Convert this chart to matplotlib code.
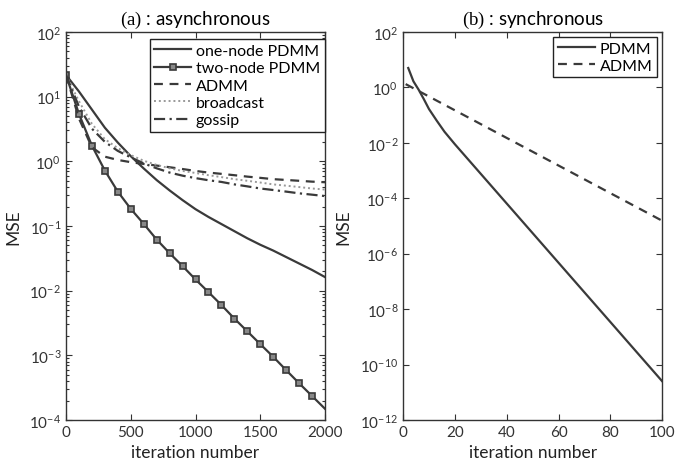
import matplotlib
matplotlib.use("Agg")
import matplotlib.pyplot as plt
import numpy as np
from matplotlib.ticker import FixedLocator, FuncFormatter, NullLocator, LogLocator

plt.rcParams['font.family'] = ['Lato', 'DejaVu Sans']
plt.rcParams['mathtext.fontset'] = 'custom'
plt.rcParams['mathtext.rm'] = 'Liberation Serif'
plt.rcParams['mathtext.sf'] = 'Lato'

# ---- (a) asynchronous ----
iters_a = [0, 100, 200, 300, 400, 500, 600, 700, 800, 900, 1000,
           1100, 1200, 1300, 1400, 1500, 1600, 1700, 1800, 1900, 2000]
one_node_log = [1.335, 1.08, 0.80, 0.52, 0.29, 0.08, -0.11, -0.29, -0.45, -0.60, -0.74,
                -0.86, -0.97, -1.08, -1.19, -1.29, -1.38, -1.48, -1.58, -1.68, -1.79]
two_node = [21.6, 5.4, 1.75, 0.72, 0.34, 0.184, 0.108, 0.0617, 0.038, 0.024, 0.0149,
            0.0095, 0.006, 0.0037, 0.00235, 0.00149, 0.00095, 0.00059, 0.00037, 0.000235, 0.000149]
admm_a = [21.6, 4.6, 1.65, 1.18, 1.05, 0.97, 0.91, 0.86, 0.81, 0.76, 0.71,
          0.67, 0.64, 0.61, 0.58, 0.555, 0.53, 0.515, 0.50, 0.485, 0.475]
broadcast = [21.6, 8.5, 3.8, 2.2, 1.6, 1.25, 1.02, 0.88, 0.78, 0.71, 0.66,
             0.61, 0.57, 0.53, 0.50, 0.47, 0.44, 0.42, 0.40, 0.38, 0.366]
gossip = [21.6, 7.0, 3.2, 2.0, 1.45, 1.15, 0.93, 0.78, 0.67, 0.60, 0.55,
          0.51, 0.48, 0.44, 0.41, 0.38, 0.36, 0.34, 0.32, 0.305, 0.29]

# ---- (b) synchronous ----
iters_pdmm = [2, 4, 6, 8, 10, 13, 16, 20, 100]
pdmm_log = [0.70, 0.22, -0.08, -0.42, -0.78, -1.20, -1.60, -2.05, -10.6]
iters_admm = [1, 50, 100]
admm_b_log = [0.12, -2.32, -4.81]

dark = '#3a3a3a'
fig = plt.figure(figsize=(6.89, 4.64), dpi=100)
ax1 = fig.add_axes([0.0958, 0.0927, 0.3759, 0.8362])
ax2 = fig.add_axes([0.585, 0.0927, 0.376, 0.8362])

ax1.plot(iters_a, 10.0 ** np.array(one_node_log), color=dark, lw=1.6, label='one-node PDMM')
ax1.plot(iters_a, two_node, color=dark, lw=1.6, marker='s', ms=5, mfc='#888888',
         mec=dark, mew=1.2, markevery=slice(0, 20), label='two-node PDMM')
ax1.plot(iters_a, admm_a, color=dark, lw=1.6, dashes=(4, 3), label='ADMM')
ax1.plot(iters_a, broadcast, color='#999999', lw=1.4, dashes=(1, 1.5), label='broadcast')
ax1.plot(iters_a, gossip, color=dark, lw=1.6, dashes=(5, 2, 1, 2), label='gossip')

ax2.plot(iters_pdmm, 10.0 ** np.array(pdmm_log), color=dark, lw=1.6, label='PDMM')
ax2.plot(iters_admm, 10.0 ** np.array(admm_b_log), color=dark, lw=1.6, dashes=(4, 3), label='ADMM')

fmt = FuncFormatter(lambda v, p: r'$\mathsf{10^{%d}}$' % int(round(np.log10(v))))

for ax in (ax1, ax2):
    ax.set_yscale('log')
    ax.tick_params(which='both', direction='in', top=True, right=True,
                   colors='#333333', labelsize=11, width=0.8)
    ax.tick_params(which='major', length=4)
    ax.tick_params(which='minor', length=2)
    for s in ax.spines.values():
        s.set_color('#333333')
        s.set_linewidth(1.0)
    ax.yaxis.set_major_formatter(fmt)
    ax.set_xlabel('iteration number', fontsize=12.5, color='#222222')
    ax.set_ylabel('MSE', fontsize=12.5, color='#222222', labelpad=6)

ax1.set_xlim(0, 2000)
ax1.set_ylim(1e-4, 1e2)
ax1.xaxis.set_major_locator(FixedLocator([0, 500, 1000, 1500, 2000]))
ax1.yaxis.set_major_locator(FixedLocator([10.0 ** k for k in range(-4, 3)]))
ax1.yaxis.set_minor_locator(LogLocator(base=10, subs=np.arange(2, 10), numticks=20))
ax1.xaxis.set_minor_locator(NullLocator())

ax2.set_xlim(0, 100)
ax2.set_ylim(1e-12, 1e2)
ax2.xaxis.set_major_locator(FixedLocator([0, 20, 40, 60, 80, 100]))
ax2.yaxis.set_major_locator(FixedLocator([10.0 ** k for k in range(-12, 3, 2)]))
ax2.yaxis.set_minor_locator(NullLocator())
ax2.xaxis.set_minor_locator(NullLocator())

ax1.set_title(r'$\mathrm{(a)}$ : asynchronous', fontsize=13.5, pad=6)
ax2.set_title(r'$\mathrm{(b)}$ : synchronous', fontsize=13.5, pad=6)

leg1 = ax1.legend(loc='upper right', bbox_to_anchor=(1.0, 0.982), fontsize=11.5, fancybox=False,
                  framealpha=1, edgecolor='#222222', borderaxespad=0.0, handletextpad=0.3,
                  labelspacing=0.2, borderpad=0.3, handlelength=2.3)
leg2 = ax2.legend(loc='upper right', bbox_to_anchor=(0.982, 0.987), fontsize=11.5, fancybox=False,
                  framealpha=1, edgecolor='#222222', borderaxespad=0.0, handletextpad=0.3,
                  labelspacing=0.15, borderpad=0.3, handlelength=2.3)
for leg in (leg1, leg2):
    leg.get_frame().set_linewidth(1.0)

fig.savefig('out.png', dpi=100)
